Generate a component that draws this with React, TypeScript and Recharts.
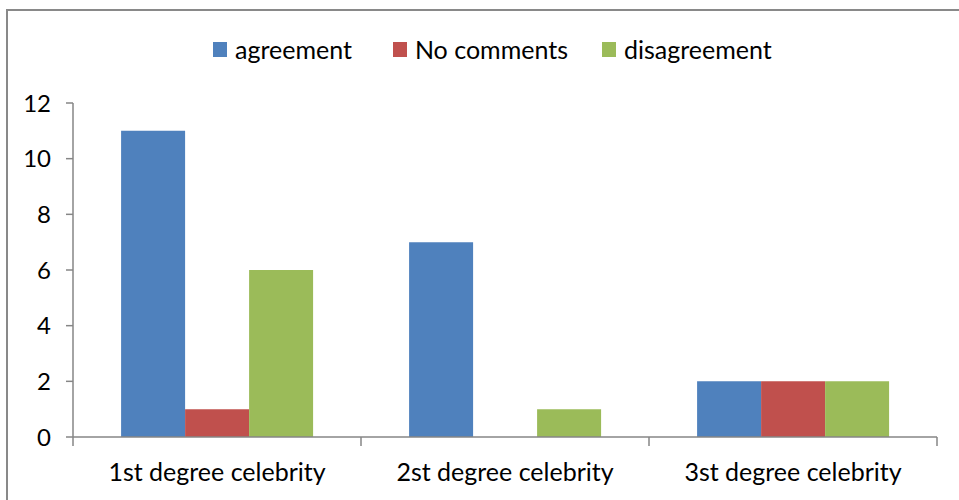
import React from 'react';
import { BarChart, Bar, XAxis, YAxis, Legend } from 'recharts';

const categories = ['1st degree celebrity', '2st degree celebrity', '3st degree celebrity'];
const agreement = [11, 7, 2];
const noComments = [1, 0, 2];
const disagreement = [6, 1, 2];
const yTicks = [0, 2, 4, 6, 8, 10, 12];

const series = [
  { key: 'agreement', name: 'agreement', color: '#4F81BD' },
  { key: 'noComments', name: 'No comments', color: '#C0504D' },
  { key: 'disagreement', name: 'disagreement', color: '#9BBB59' },
];
const legendGaps = [41, 34, 0];

const data = categories.map((c, i) => ({
  name: c,
  agreement: agreement[i],
  noComments: noComments[i],
  disagreement: disagreement[i],
}));

const FONT = 'Lato, "Open Sans", sans-serif';
const AXIS = '#868686';
const TICK_SIZE = 9;
const TICK_MARGIN = 17;

const LegendContent = () => (
  <div style={{ display: 'flex', alignItems: 'center', fontFamily: FONT, fontSize: 25, lineHeight: '30px', color: '#000', whiteSpace: 'nowrap' }}>
    {series.map((s, i) => (
      <div key={s.key} style={{ display: 'flex', alignItems: 'center', marginRight: legendGaps[i] }}>
        <span style={{ display: 'inline-block', width: 14, height: 15, background: s.color, marginRight: 8 }} />
        <span>{s.name}</span>
      </div>
    ))}
  </div>
);

// category label plus Excel-style tick marks on the band edges
const CategoryTick = (props: any) => {
  const { x, y, payload, index, visibleTicksCount } = props;
  const half = payload?.offset ?? 0;
  const axisY = y - TICK_SIZE - TICK_MARGIN;
  const last = index === (visibleTicksCount ?? categories.length) - 1;
  return (
    <g>
      <line x1={x - half} x2={x - half} y1={axisY} y2={axisY + TICK_SIZE} stroke={AXIS} strokeWidth={1.5} />
      {last && <line x1={x + half} x2={x + half} y1={axisY} y2={axisY + TICK_SIZE} stroke={AXIS} strokeWidth={1.5} />}
      <text x={x} y={y} dy="0.71em" textAnchor="middle" fill="#000" fontSize={25} fontFamily={FONT}>
        {payload.value}
      </text>
    </g>
  );
};

export default function App() {
  return (
    <div style={{ position: 'absolute', left: 0, top: 0, width: 959, height: 500, background: '#fff', overflow: 'hidden' }}>
      <div style={{ position: 'absolute', left: 6, top: 9, width: 980, height: 520, border: '2px solid #898989', boxSizing: 'border-box' }} />
      <BarChart
        width={959}
        height={500}
        data={data}
        margin={{ top: 73, right: 22, left: 0, bottom: 23 }}
        barCategoryGap="16.7%"
        barGap={0}
        style={{ position: 'absolute', left: 0, top: 0 }}
      >
        <XAxis
          dataKey="name"
          height={40}
          axisLine={{ stroke: AXIS, strokeWidth: 1.5 }}
          tickLine={false}
          tickSize={TICK_SIZE}
          tickMargin={TICK_MARGIN}
          tick={<CategoryTick />}
        />
        <YAxis
          width={73}
          domain={[0, 12]}
          ticks={yTicks}
          interval={0}
          axisLine={{ stroke: AXIS, strokeWidth: 1.5 }}
          tickLine={{ stroke: AXIS, strokeWidth: 1.5 }}
          tickSize={7}
          tickMargin={15}
          tick={{ fill: '#000', fontSize: 24, fontFamily: FONT }}
        />
        <Legend
          layout="vertical"
          align="center"
          verticalAlign="top"
          content={<LegendContent />}
          wrapperStyle={{ left: 213, top: 34, width: 'auto' }}
        />
        {series.map((s) => (
          <Bar key={s.key} dataKey={s.key} name={s.name} fill={s.color} isAnimationActive={false} />
        ))}
      </BarChart>
    </div>
  );
}
